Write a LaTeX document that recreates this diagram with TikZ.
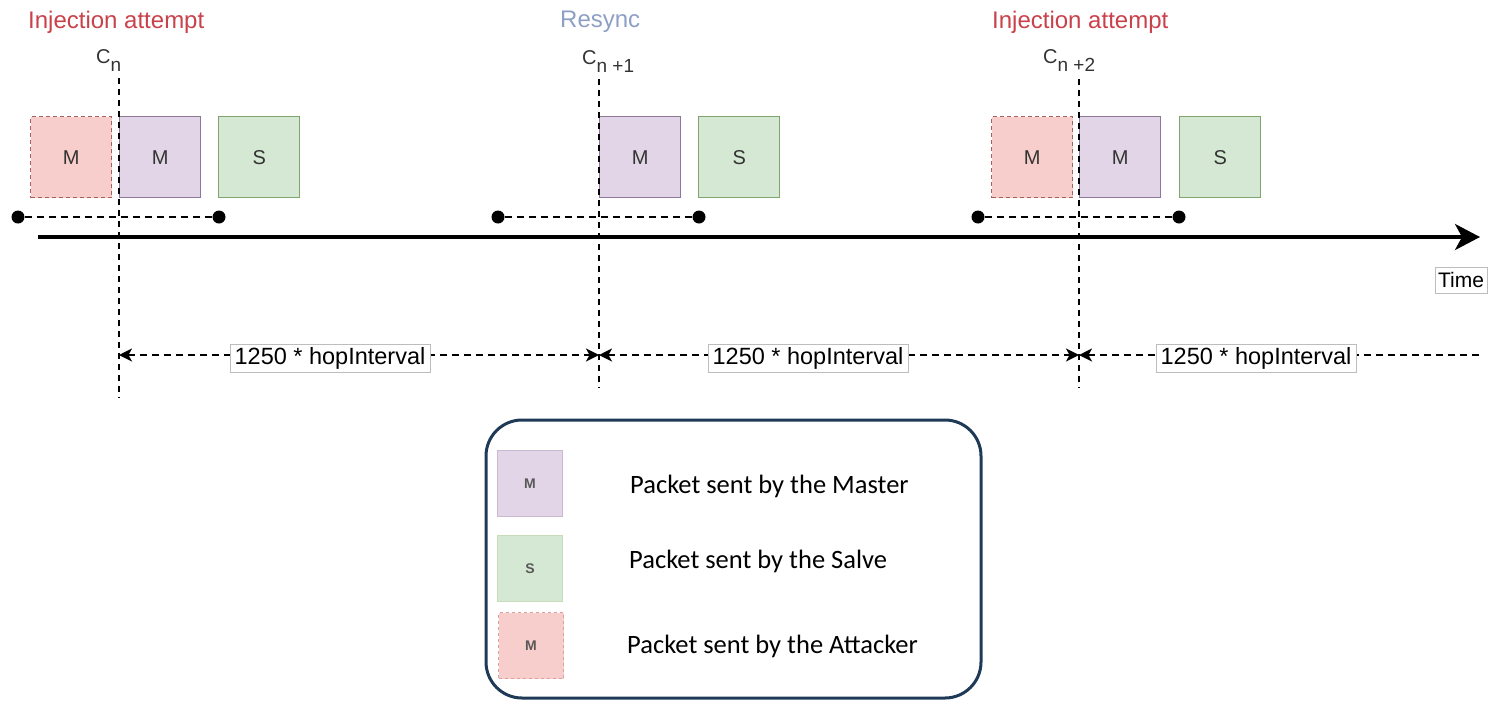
\documentclass[tikz,border=0pt]{standalone}
\usepackage{fontspec}
\setmainfont{Liberation Sans}
\newfontfamily\legendfont{Carlito}
\usetikzlibrary{arrows.meta}

\definecolor{attfill}{HTML}{F8CECC}
\definecolor{attline}{HTML}{B85450}
\definecolor{mfill}{HTML}{E1D5E7}
\definecolor{mline}{HTML}{9673A6}
\definecolor{sfill}{HTML}{D5E8D4}
\definecolor{sline}{HTML}{82B366}
\definecolor{injred}{HTML}{C9414A}
\definecolor{resyncblue}{HTML}{8E9FC6}
\definecolor{legendline}{HTML}{1F3A56}
\definecolor{labelgray}{HTML}{BDBDBD}

\tikzset{
  pkt/.style={minimum width=81pt, minimum height=81pt, inner sep=0pt,
    line width=1.4pt, font=\fontsize{20}{20}\selectfont, text=black!80,
    anchor=north west},
  master/.style={pkt, fill=mfill, draw=mline!70!gray},
  slave/.style={pkt, fill=sfill, draw=sline!70!gray},
  attacker/.style={pkt, fill=attfill, draw=attline!70!gray,
    dash pattern=on 4pt off 3pt},
  swatch/.style={minimum width=65pt, minimum height=66pt, inner sep=0pt,
    line width=1pt, font=\fontsize{14}{14}\selectfont\bfseries,
    text=black!65, anchor=north west},
  mswatch/.style={swatch, fill=mfill, draw=mline!50},
  sswatch/.style={swatch, fill=sfill, draw=sline!45},
  aswatch/.style={swatch, fill=attfill, draw=attline!55,
    dash pattern=on 3pt off 3pt},
  eventlabel/.style={anchor=base west, inner sep=0pt,
    font=\fontsize{24}{24}\selectfont},
  connlabel/.style={anchor=base west, inner sep=0pt, text=black!80},
  slotline/.style={line width=1.8pt, dash pattern=on 6pt off 5pt},
  dotline/.style={line width=1.8pt, dash pattern=on 7pt off 5pt},
  dot/.style={circle, fill=black, minimum size=13pt, inner sep=0pt},
  dimline/.style={line width=1.6pt, dash pattern=on 7pt off 5pt},
  dimtip/.tip={Stealth[length=13pt, width=13pt, inset=3.5pt]},
  dimlabel/.style={draw=labelgray, line width=0.8pt, fill=white,
    minimum width=200pt, minimum height=28pt, inner sep=0pt,
    font=\fontsize{23.5}{23.5}\selectfont},
  legendtext/.style={anchor=base west, inner sep=0pt,
    font=\legendfont\fontsize{26.5}{26.5}\selectfont},
}

\newcommand{\connsym}[1]{{\fontsize{20}{20}\selectfont C}\raisebox{-8pt}{\fontsize{19}{19}\selectfont #1}}

\begin{document}
\begin{tikzpicture}[x=1pt, y=-1pt]
  \useasboundingbox (0,0) rectangle (1499,702);

  % event captions
  \node[eventlabel, text=injred] (ev1) at (28,28) {Injection attempt};
  \node[eventlabel, text=resyncblue] (ev2) at (560,27) {Resync};
  \node[eventlabel, text=injred] (ev3) at (992,28) {Injection attempt};

  % connection event markers
  \node[connlabel] (cn0) at (96,63) {\connsym{n}};
  \node[connlabel] (cn1) at (582,64) {\connsym{n +1}};
  \node[connlabel] (cn2) at (1043,63) {\connsym{n +2}};

  % packets
  \node[attacker] (a1) at (30,116) {M};
  \node[master]   (m1) at (119,116) {M};
  \node[slave]    (s1) at (218,116) {S};

  \node[master]   (m2) at (599,116) {M};
  \node[slave]    (s2) at (698,116) {S};

  \node[attacker] (a3) at (991,116) {M};
  \node[master]   (m3) at (1079,116) {M};
  \node[slave]    (s3) at (1179,116) {S};

  % connection event lines
  \coordinate (v1t) at (119,78);  \coordinate (v1b) at (119,398);
  \coordinate (v2t) at (599,79);  \coordinate (v2b) at (599,388);
  \coordinate (v3t) at (1079,79); \coordinate (v3b) at (1079,388);
  \draw[slotline] (v1t) -- (v1b);
  \draw[slotline] (v2t) -- (v2b);
  \draw[slotline] (v3t) -- (v3b);

  % listening windows
  \node[dot] (w1a) at (18,217) {};   \node[dot] (w1b) at (219,217) {};
  \node[dot] (w2a) at (498,217) {};  \node[dot] (w2b) at (699,217) {};
  \node[dot] (w3a) at (978,217) {};  \node[dot] (w3b) at (1179,217) {};
  \draw[dotline] (w1a) -- (w1b);
  \draw[dotline] (w2a) -- (w2b);
  \draw[dotline] (w3a) -- (w3b);

  % time axis
  \coordinate (t0) at (38,237);
  \coordinate (t1) at (1480,237);
  \draw[line width=3.5pt, -{Stealth[length=25pt, width=26pt, inset=7pt]}] (t0) -- (t1);
  \node[draw=labelgray, line width=0.8pt, fill=white, minimum width=52pt,
        minimum height=26pt, inner sep=0pt, font=\fontsize{21}{21}\selectfont]
        (time) at (1461,280) {Time};

  % intervals between connection events
  \coordinate (d1) at (119,355);
  \coordinate (d2) at (599,355);
  \coordinate (d3) at (1079,355);
  \coordinate (d4) at (1480,355);
  \draw[dimline, dimtip-dimtip] (d1) -- (d2);
  \draw[dimline, dimtip-dimtip] (d2) -- (d3);
  \draw[dimline, dimtip-] (d3) -- (d4);
  \node[dimlabel] (i1) at (330,358) {1250 * hopInterval};
  \node[dimlabel] (i2) at (808,358) {1250 * hopInterval};
  \node[dimlabel] (i3) at (1256,358) {1250 * hopInterval};

  % legend
  \node[draw=legendline, line width=3pt, rounded corners=36pt,
        minimum width=495pt, minimum height=278pt, inner sep=0pt]
        (legend) at (733.5,559) {};
  \node[mswatch] (lm) at (497,450) {M};
  \node[sswatch] (ls) at (497,535) {S};
  \node[aswatch] (la) at (498,612) {M};
  \node[legendtext] (tm) at (630,493) {Packet sent by the Master};
  \node[legendtext] (ts) at (629,568) {Packet sent by the Salve};
  \node[legendtext] (ta) at (627,653) {Packet sent by the Attacker};
\end{tikzpicture}
\end{document}
